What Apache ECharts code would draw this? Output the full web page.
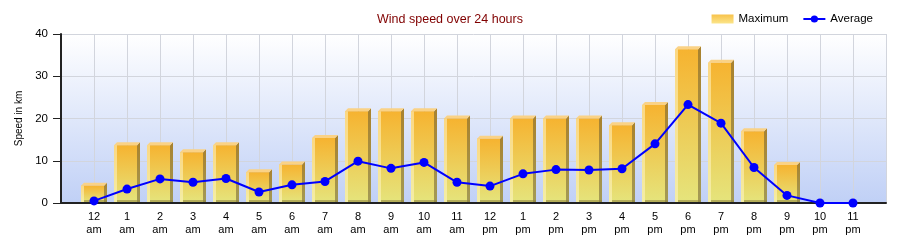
<!DOCTYPE html>
<html>
<head>
<meta charset="utf-8">
<script src="https://cdn.jsdelivr.net/npm/echarts@6/dist/echarts.min.js"></script>
<style>
html,body{margin:0;padding:0;background:#fff;}
#chart{width:900px;height:240px;}
</style>
</head>
<body>
<div id="chart"></div>
<script>
// ---- data ----
const hourLabels = ['12','1','2','3','4','5','6','7','8','9','10','11','12','1','2','3','4','5','6','7','8','9','10','11'];
const periodLabels = ['am','am','am','am','am','am','am','am','am','am','am','am','pm','pm','pm','pm','pm','pm','pm','pm','pm','pm','pm','pm'];
const maxValues = [4.8,14.4,14.4,12.7,14.4,8.0,9.8,16.1,22.4,22.4,22.4,20.7,15.9,20.7,20.7,20.7,19.1,23.9,37.1,33.9,17.7,9.7,0,0];
const avgValues = [0.5,3.3,5.7,4.9,5.8,2.6,4.3,5.1,9.9,8.2,9.6,4.9,4.0,6.9,7.9,7.8,8.1,14.0,23.3,18.9,8.4,1.8,0,0];
const yTicks = [0,10,20,30,40];

const FONT = '"Liberation Sans", Arial, sans-serif';
const maxData = maxValues.map((v,i)=>[i+1,v]);
const avgData = avgValues.map((v,i)=>[i+1,v]);

const frontGrad = new echarts.graphic.LinearGradient(0,0,0,1,[
  {offset:0,color:'#F6B330'},{offset:1,color:'#E5E47C'}]);
const sideGrad = new echarts.graphic.LinearGradient(0,0,0,1,[
  {offset:0,color:'#A9822E'},{offset:1,color:'#A39A55'}]);
const legendGrad = new echarts.graphic.LinearGradient(0,0,0,1,[
  {offset:0,color:'#F8C24A'},{offset:1,color:'#FBE58A'}]);

const chart = echarts.init(document.getElementById('chart'));
chart.setOption({
  animation:false,
  textStyle:{fontFamily:FONT},
  title:{text:'Wind speed over 24 hours',left:'center',top:8,
    textStyle:{fontSize:12.5,fontWeight:'normal',color:'#800000',fontFamily:FONT}},
  legend:{right:22,top:8,itemWidth:22,itemHeight:9,itemGap:14,
    textStyle:{fontSize:11.5,color:'#000',fontFamily:FONT},
    data:[{name:'Maximum',icon:'rect',itemStyle:{color:legendGrad}},{name:'Average'}]},
  grid:{left:61,right:14,top:34,bottom:37,show:true,borderWidth:0,
    backgroundColor:new echarts.graphic.LinearGradient(0,0,0,1,[
      {offset:0,color:'#FFFFFF'},{offset:1,color:'#C0D0F6'}])},
  xAxis:{type:'value',min:0,max:25,interval:1,
    axisLine:{show:true,onZero:false,lineStyle:{color:'#222',width:2}},
    axisTick:{show:false},
    splitLine:{show:true,lineStyle:{color:'#D2D5DD',width:1}},
    axisLabel:{margin:7,fontSize:11,lineHeight:13,color:'#000',fontFamily:FONT,
      formatter:v=>{const i=Math.round(v)-1;return (i>=0&&i<hourLabels.length)?hourLabels[i]+'\n'+periodLabels[i]:'';}}},
  yAxis:{type:'value',min:yTicks[0],max:yTicks[yTicks.length-1],interval:10,
    name:'Speed in km',nameLocation:'middle',nameGap:36,
    nameTextStyle:{fontSize:10,color:'#000',fontFamily:FONT},
    axisLine:{show:true,lineStyle:{color:'#222',width:2}},
    axisTick:{show:true,length:8,lineStyle:{color:'#222'}},
    splitLine:{show:true,lineStyle:{color:'#D2D5DD',width:1}},
    axisLabel:{margin:13,fontSize:11.5,color:'#000',fontFamily:FONT}},
  series:[
    {name:'Maximum',type:'custom',data:maxData,z:2,
      itemStyle:{color:legendGrad},
      encode:{x:0,y:1},
      renderItem:function(params,api){
        const x=api.value(0),v=api.value(1);
        if(!v) return null;
        const top=api.coord([x,v]);
        const base=api.coord([x,0]);
        const band=api.size([1,0])[0];
        const w=Math.round(band*0.7), d=3;
        const x0=Math.round(top[0]-(w+d)/2);
        const x1=x0+w;
        const yb=base[1]-1;
        const yt=top[1]+d;
        return {type:'group',children:[
          {type:'polygon',shape:{points:[[x1,yt],[x1+d,yt-d],[x1+d,yb],[x1,yb]]},style:{fill:sideGrad}},
          {type:'polygon',shape:{points:[[x0,yt],[x0+d,yt-d],[x1+d,yt-d],[x1,yt]]},style:{fill:'#FAD286'}},
          {type:'rect',shape:{x:x0,y:yt,width:w,height:yb-yt},style:{fill:frontGrad}},
          {type:'rect',shape:{x:x0,y:yt,width:3,height:yb-yt},style:{fill:'rgba(255,245,200,0.55)'}},
          {type:'rect',shape:{x:x0+3,y:yb-2,width:w,height:2},style:{fill:'rgba(140,130,60,0.55)'}}
        ]};
      }},
    {name:'Average',type:'line',data:avgData,z:5,
      symbol:'circle',symbolSize:9,
      lineStyle:{color:'#0000FF',width:2},
      itemStyle:{color:'#0000FF'}}
  ]
});
</script>
</body>
</html>
